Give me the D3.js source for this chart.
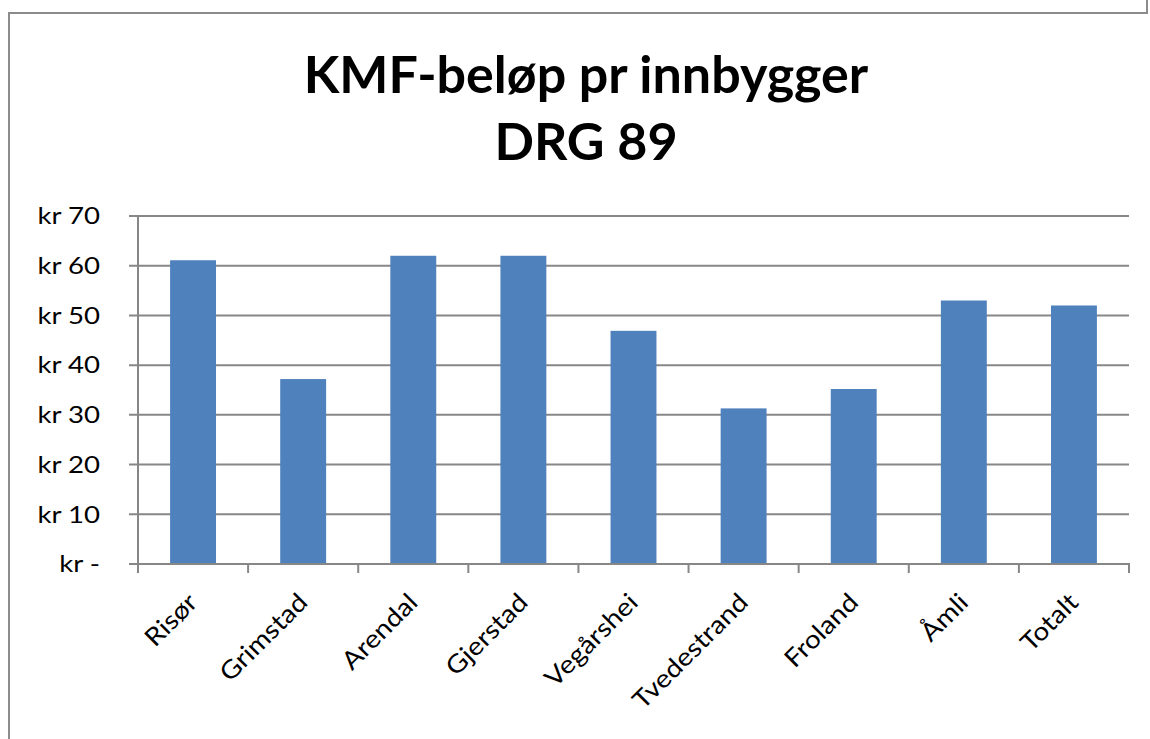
<!DOCTYPE html>
<html>
<head>
<meta charset="utf-8">
<script src="https://cdn.jsdelivr.net/npm/d3@7"></script>
<style>
  html, body { margin: 0; padding: 0; background: #fff; }
  svg { display: block; }
</style>
</head>
<body>
<script>
const categories = ["Risør", "Grimstad", "Arendal", "Gjerstad", "Vegårshei", "Tvedestrand", "Froland", "Åmli", "Totalt"];
const values = [61.1, 37.2, 62.0, 62.0, 46.9, 31.3, 35.2, 53.0, 52.0];
const yTicks = [0, 10, 20, 30, 40, 50, 60, 70];
const yTickLabels = ["kr -", "kr 10", "kr 20", "kr 30", "kr 40", "kr 50", "kr 60", "kr 70"];
const titleLines = ["KMF-beløp pr innbygger", "DRG 89"];

(function () {
const W = 1150, H = 739;
const pLeft = 138, pRight = 1129, pTop = 216, pBottom = 564;
const gridColor = "#878787";
const barColor = "#4F81BD";
const font = "Lato, 'Open Sans', sans-serif";

const svg = d3.select("body").append("svg").attr("width", W).attr("height", H);

// outer chart border
svg.append("path")
  .attr("d", `M9,${H + 5} L9,13 L1147,13 L1147,0`)
  .attr("fill", "none").attr("stroke", "#8c8c8c").attr("stroke-width", 2);

// title
titleLines.forEach((t, i) => {
  svg.append("text")
    .attr("x", 586).attr("y", 93 + i * 67)
    .attr("text-anchor", "middle")
    .attr("font-family", font).attr("font-weight", "bold").attr("font-size", 52)
    .attr("fill", "#000")
    .text(t);
});

const y = d3.scaleLinear().domain([0, 70]).range([pBottom, pTop]);
const xCat = d3.scaleBand().domain(categories).range([pLeft, pRight]).padding(0);
const x = d3.scaleBand().domain(categories).range([pLeft, pRight])
  .paddingInner(0.583).paddingOuter(0.2915);

// gridlines (incl. tick stubs to left of axis)
svg.append("g").selectAll("line")
  .data(yTicks.filter(t => t > 0))
  .join("line")
  .attr("x1", pLeft - 9).attr("x2", pRight)
  .attr("y1", d => y(d)).attr("y2", d => y(d))
  .attr("stroke", gridColor).attr("stroke-width", 2);

// bars
svg.append("g").selectAll("rect")
  .data(values)
  .join("rect")
  .attr("x", (d, i) => x(categories[i]))
  .attr("width", x.bandwidth())
  .attr("y", d => y(d))
  .attr("height", d => y(0) - y(d))
  .attr("fill", barColor);

// y axis line
svg.append("line")
  .attr("x1", pLeft).attr("x2", pLeft)
  .attr("y1", y(70)).attr("y2", y(0) + 9)
  .attr("stroke", gridColor).attr("stroke-width", 2);

// x axis line
svg.append("line")
  .attr("x1", pLeft - 9).attr("x2", pRight + 1)
  .attr("y1", y(0)).attr("y2", y(0))
  .attr("stroke", gridColor).attr("stroke-width", 2);

// x tick marks at category boundaries
const boundaries = categories.map(c => xCat(c)).concat([pRight]);
svg.append("g").selectAll("line")
  .data(boundaries)
  .join("line")
  .attr("x1", d => d).attr("x2", d => d)
  .attr("y1", y(0)).attr("y2", y(0) + 9)
  .attr("stroke", gridColor).attr("stroke-width", 2);

// y tick labels
svg.append("g").selectAll("text")
  .data(yTicks)
  .join("text")
  .attr("transform", d => `translate(100, ${y(d)}) scale(1.2, 1)`)
  .attr("dy", "0.36em")
  .attr("text-anchor", "end")
  .attr("font-family", font).attr("font-size", 23)
  .attr("fill", "#000")
  .text((d, i) => yTickLabels[i]);

// x labels, rotated -45
svg.append("g").selectAll("text")
  .data(categories)
  .join("text")
  .attr("transform", d => `translate(${xCat(d) + xCat.bandwidth() / 2 + 6}, 604) rotate(-45) scale(1.12, 1)`)
  .attr("text-anchor", "end")
  .attr("font-family", font).attr("font-size", 25)
  .attr("fill", "#000")
  .text(d => d);
})();
</script>
</body>
</html>
